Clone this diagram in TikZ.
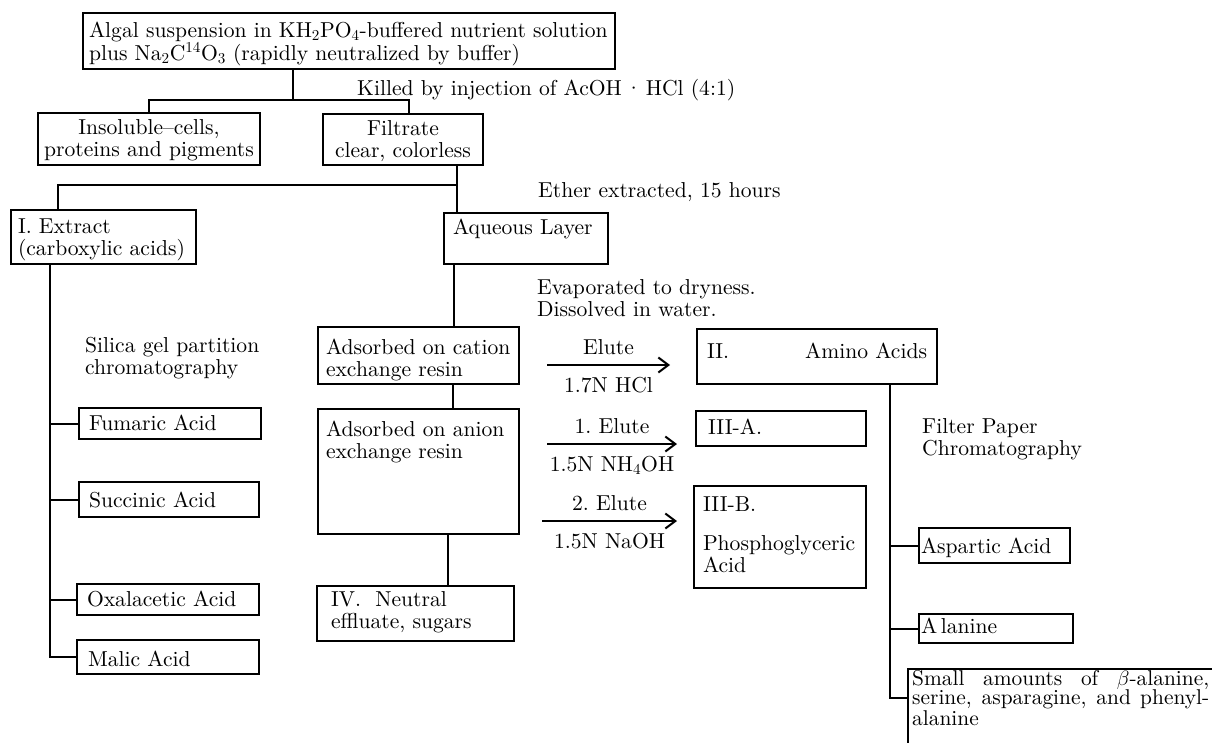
\documentclass[tikz,border=0pt]{standalone}
\usepackage{fontspec}
\setmainfont{lmroman10-regular.otf}
\usepackage{amsmath}
\usepackage{tikz}
\usetikzlibrary{arrows.meta}
\usetikzlibrary{positioning}
\tikzset{box/.style={draw, line width=2pt, anchor=north west, align=left, inner ysep=5pt}}
\tikzset{bx/.code n args={4}{%
   \pgfmathsetmacro\bxw{#1-2*#4}%
   \pgfmathsetmacro\bxh{#3-5}%
   \pgfmathsetmacro\bxd{#2-#3-5}%
   \edef\bxset{\noexpand\tikzset{box, inner xsep=#4pt, text width=\bxw pt,
      text height=\bxh pt, text depth=\bxd pt}}\bxset}}
\tikzset{txt/.style={anchor=base west, align=left, inner sep=0pt}}
\tikzset{up/.style={anchor=base, inner sep=0pt, yshift=11pt}}
\tikzset{dn/.style={anchor=base, inner sep=0pt, yshift=-27pt}}
\tikzset{wire/.style={line width=2pt}}

\begin{document}
\lineskiplimit=-20pt
\begin{tikzpicture}[x=1pt,y=-1pt,>={Straight Barb[length=10pt,width=15pt]},
                    every node/.style={font=\fontsize{21.6}{22}\selectfont}]
   \useasboundingbox (0,0) rectangle (1212,742);
   \clip (0,0) rectangle (1212,742);

   % boxes
   \node[bx={532}{56}{24}{6}, font=\fontsize{21.6}{19}\selectfont] (algal) at (82,12)
      {\mbox{Algal suspension in KH\textsubscript{2}PO\textsubscript{4}-buffered nutrient solution}\\
       plus Na\textsubscript{2}C\textsuperscript{14}O\textsubscript{3} (rapidly neutralized by buffer)};
   \node[bx={222}{52}{21}{3}, align=center] (insol) at (37,112) {Insoluble--cells,\\\mbox{proteins and pigments}};
   \node[bx={160}{51}{21}{6}, align=center] (filt) at (322,113) {Filtrate\\\mbox{clear, colorless}};
   \node[bx={185}{54}{23}{7}] (extract) at (10,209) {I.\ Extract\\\mbox{(carboxylic acids)}};
   \node[bx={164}{51}{21}{9}] (aq) at (443,212) {Aqueous Layer};
   \node[bx={201}{57}{27}{8}] (cation) at (317,326) {\mbox{Adsorbed on cation}\\exchange resin};
   \node[bx={201}{125}{27}{8}] (anion) at (317,408) {\mbox{Adsorbed on anion}\\exchange resin};
   \node[bx={197}{55}{20}{14}] (neutral) at (316,585) {IV.\ \ Neutral\\effluate, sugars};
   \node[bx={240}{55}{29}{10}] (amino) at (696,328) {II.\hskip0pt plus1fill Amino Acids};
   \node[bx={170}{35}{23}{12}] (acidA) at (695,410) {III-A.};
   \node[bx={172}{102}{25}{9}] (acidB) at (693,485) {III-B.\\[17pt]Phosphoglyceric\\Acid};
   \node[bx={182}{31}{22}{10}] (fum) at (78,407) {Fumaric Acid};
   \node[bx={180}{35}{25}{10}] (succ) at (78,481) {Succinic Acid};
   \node[bx={182}{31}{22}{10}] (oxal) at (76,583) {\mbox{Oxalacetic Acid}};
   \node[bx={182}{34}{26}{11}] (malic) at (76,639) {Malic Acid};
   \node[bx={151}{35}{25}{2}] (asp) at (918,527) {Aspartic Acid};
   \node[bx={154}{29}{19}{2}] (ala) at (918,613) {A\,lanine};
   \node[txt, text width=297pt, align=justify, font=\fontsize{21.4}{16.5}\selectfont] (small) at (912,685)
      {Small amounts of $\beta$-alanine,\linebreak serine, asparagine, and phenyl-\linebreak alanine};

   % step labels
   \node[txt] (killed) at (357,95) {Killed by injection of AcOH\,·\,HCl (4:1)};
   \node[txt] (ether) at (538,197) {Ether extracted, 15 hours};
   \node[txt] (evap) at (537,316) {Evaporated to dryness.\\Dissolved in water.};
   \node[txt] (silica) at (85,374) {Silica gel partition\\chromatography};
   \node[txt] (filter) at (922,455) {Filter Paper\\Chromatography};

   % joints
   \coordinate (j1) at (293,100);
   \coordinate (j1r) at (409,100);
   \coordinate (j2) at (457,185);
   \coordinate (j2l) at (58,185);
   \coordinate (s3) at (454,300);
   \coordinate (s4) at (453,395);
   \coordinate (s5) at (448,560);
   \coordinate (sl) at (50,300);
   \coordinate (sr) at (890,500);
   \coordinate (smj) at (908,698);
   \coordinate (smc) at (908,669);
   \coordinate (e1a) at (547,365); \coordinate (e1b) at (670,365);
   \coordinate (e2a) at (547,444); \coordinate (e2b) at (677,444);
   \coordinate (e3a) at (542,521); \coordinate (e3b) at (677,521);

   \draw[wire] (algal.south -| j1) -- (j1);
   \draw[wire] (insol.north) |- (j1r) -- (filt.north -| j1r);
   \draw[wire] (filt.south -| j2) -- (aq.north -| j2);
   \draw[wire] (j2) -- (j2l) -- (extract.north -| j2l);
   \draw[wire] (aq.south -| s3) -- (cation.north -| s3);
   \draw[wire] (cation.south -| s4) -- (anion.north -| s4);
   \draw[wire] (anion.south -| s5) -- (neutral.north -| s5);
   \draw[wire] (extract.south -| sl) |- (malic.west);
   \foreach \n in {fum,succ,oxal} \draw[wire] (\n.west -| sl) -- (\n.west);
   \draw[wire] (amino.south -| sr) |- (smj);
   \foreach \n in {asp,ala} \draw[wire] (\n.west -| sr) -- (\n.west);
   \draw[wire] (smc) ++(0,90) -- (smc) -- ++(330,0);

   % elutions
   \path[->, wire] (e1a) edge node[up]{Elute} node[dn]{1.7N HCl} (e1b)
                   (e2a) edge node[up]{1.\ Elute} node[dn]{1.5N NH\textsubscript{4}OH} (e2b)
                   (e3a) edge node[up]{2.\ Elute} node[dn]{1.5N NaOH} (e3b);
\end{tikzpicture}
\end{document}
